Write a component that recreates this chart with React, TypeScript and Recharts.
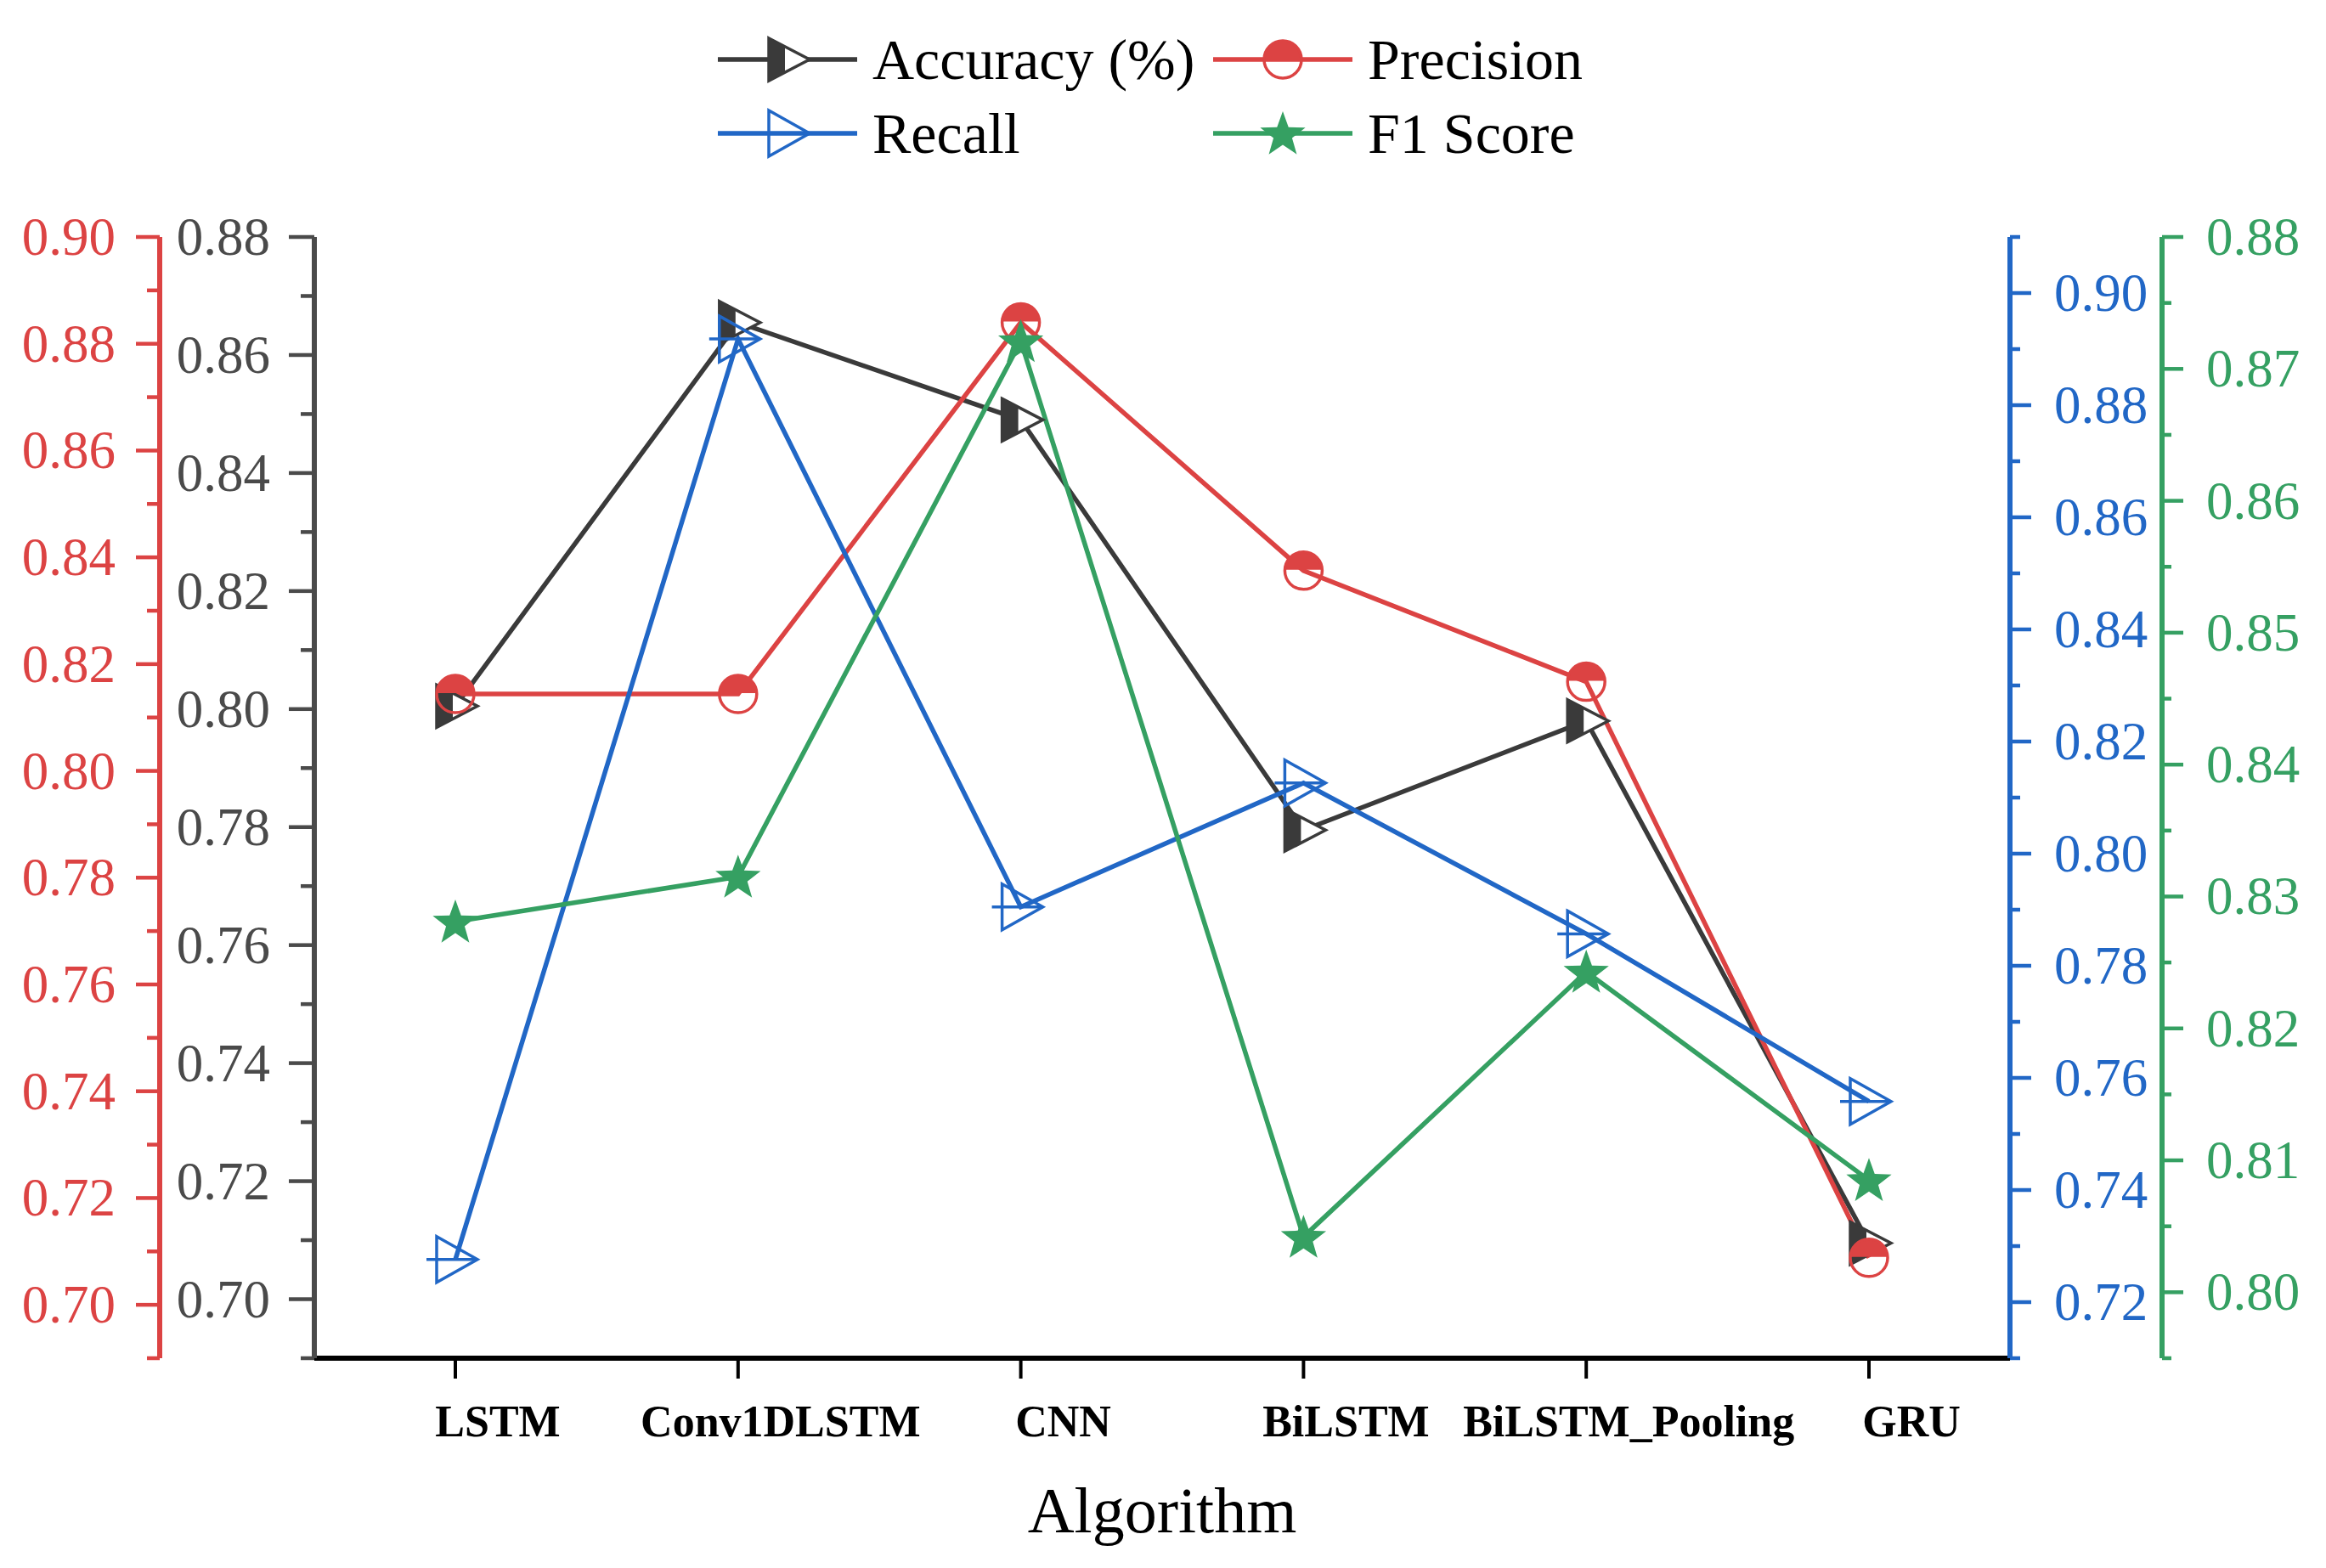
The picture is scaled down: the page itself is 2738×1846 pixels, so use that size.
import React from 'react';
import { LineChart, Line, XAxis, YAxis } from 'recharts';

const algorithms = ['LSTM', 'Conv1DLSTM', 'CNN', 'BiLSTM', 'BiLSTM_Pooling', 'GRU'];
const accuracy = [0.8005, 0.8655, 0.849, 0.7795, 0.798, 0.7095];
const precision = [0.8144, 0.8144, 0.884, 0.8375, 0.8167, 0.7088];
const recall = [0.7276, 0.8918, 0.7905, 0.8126, 0.7857, 0.7558];
const f1Score = [0.8281, 0.8315, 0.8721, 0.8042, 0.8243, 0.8085];

// tick values (major ones get labels)
const redMajor = [0.7, 0.72, 0.74, 0.76, 0.78, 0.8, 0.82, 0.84, 0.86, 0.88, 0.9];
const redMinor = [0.69, 0.71, 0.73, 0.75, 0.77, 0.79, 0.81, 0.83, 0.85, 0.87, 0.89];
const blackMajor = [0.7, 0.72, 0.74, 0.76, 0.78, 0.8, 0.82, 0.84, 0.86, 0.88];
const blackMinor = [0.69, 0.71, 0.73, 0.75, 0.77, 0.79, 0.81, 0.83, 0.85, 0.87];
const blueMajor = [0.72, 0.74, 0.76, 0.78, 0.8, 0.82, 0.84, 0.86, 0.88, 0.9];
const blueMinor = [0.71, 0.73, 0.75, 0.77, 0.79, 0.81, 0.83, 0.85, 0.87, 0.89, 0.91];
const greenMajor = [0.8, 0.81, 0.82, 0.83, 0.84, 0.85, 0.86, 0.87, 0.88];
const greenMinor = [0.795, 0.805, 0.815, 0.825, 0.835, 0.845, 0.855, 0.865, 0.875];

const data = algorithms.map((name, i) => ({
  name,
  accuracy: accuracy[i],
  precision: precision[i],
  recall: recall[i],
  f1: f1Score[i],
}));

const SERIF = '"Liberation Serif", "Times New Roman", serif';
const C_BLACK = '#3a3a3a';
const C_RED = '#dc4343';
const C_BLUE = '#2167c6';
const C_GREEN = '#35a062';

function AccuracyMark({ x, y }: { x: number; y: number }) {
  const xl = x - 22;
  const xt = x + 26;
  const xm = x - 3;
  const dy = ((xm - xl) / (xt - xl)) * 25;
  return (
    <g>
      <path d={`M${xl},${y - 25}L${xt},${y}L${xl},${y + 25}Z`} fill="#fff" stroke={C_BLACK} strokeWidth={3.5} />
      <path d={`M${xl},${y - 25}L${xm},${y - 25 + dy}L${xm},${y + 25 - dy}L${xl},${y + 25}Z`} fill={C_BLACK} />
    </g>
  );
}

function PrecisionMark({ x, y }: { x: number; y: number }) {
  const r = 22;
  return (
    <g>
      <path d={`M${x - r},${y - 1}A${r},${r} 0 0 1 ${x + r},${y - 1}Z`} fill={C_RED} />
      <circle cx={x} cy={y} r={r} fill="none" stroke={C_RED} strokeWidth={3.5} />
    </g>
  );
}

function RecallMark({ x, y }: { x: number; y: number }) {
  const xl = x - 22;
  const xt = x + 26;
  return (
    <g>
      <path d={`M${xl},${y - 27}L${xt},${y}L${xl},${y + 27}Z`} fill="none" stroke={C_BLUE} strokeWidth={3.5} />
      <line x1={x - 34} x2={xt} y1={y} y2={y} stroke={C_BLUE} strokeWidth={3.5} />
    </g>
  );
}

function StarMark({ x, y }: { x: number; y: number }) {
  const outer = 28;
  const inner = 11.5;
  let d = '';
  for (let k = 0; k < 10; k++) {
    const r = k % 2 === 0 ? outer : inner;
    const a = -Math.PI / 2 + (k * Math.PI) / 5;
    d += `${k === 0 ? 'M' : 'L'}${x + r * Math.cos(a)},${y + 2 + r * Math.sin(a)}`;
  }
  return <path d={d + 'Z'} fill={C_GREEN} />;
}

function makeYTick(side: 'left' | 'right', color: string, majors: number[], digits: number, majorLen: number, minorLen: number) {
  return (props: any) => {
    const { x, y, payload } = props;
    const v = payload.value as number;
    const isMajor = majors.some((m) => Math.abs(m - v) < 1e-6);
    const dir = side === 'left' ? -1 : 1;
    const len = isMajor ? majorLen : minorLen;
    return (
      <g>
        <line x1={x} x2={x + dir * len} y1={y} y2={y} stroke={color} strokeWidth={4.5} />
        {isMajor && (
          <text
            x={x + dir * 52}
            y={y}
            textAnchor={side === 'left' ? 'end' : 'start'}
            dominantBaseline="central"
            fill={color}
            fontSize={63}
            fontFamily={SERIF}
          >
            {v.toFixed(digits)}
          </text>
        )}
      </g>
    );
  };
}

const XTick = (props: any) => {
  const { x, y, payload } = props;
  return (
    <g>
      <line x1={x} x2={x} y1={y} y2={y + 24} stroke="#000" strokeWidth={4} />
      <text x={x + 50} y={y + 92} textAnchor="middle" fontWeight="bold" fontSize={52} fontFamily={SERIF} fill="#000">
        {payload.value}
      </text>
    </g>
  );
};

const legendItems = [
  { label: 'Accuracy (%)', color: C_BLACK, Mark: AccuracyMark, x: 845, y: 70 },
  { label: 'Precision', color: C_RED, Mark: PrecisionMark, x: 1428, y: 70 },
  { label: 'Recall', color: C_BLUE, Mark: RecallMark, x: 845, y: 157 },
  { label: 'F1 Score', color: C_GREEN, Mark: StarMark, x: 1428, y: 157 },
];

// axis ids sort innermost-first on each side
export default function App() {
  return (
    <div style={{ position: 'absolute', left: 0, top: 0, width: 2738, height: 1846, background: '#fff' }}>
      <LineChart width={2738} height={1846} data={data} margin={{ top: 279, right: 0, bottom: 0, left: 0 }}>
        <XAxis
          dataKey="name"
          height={247}
          padding={{ left: 166, right: 166 }}
          axisLine={{ stroke: '#000', strokeWidth: 6 }}
          tickLine={false}
          tickSize={0}
          tickMargin={0}
          interval={0}
          tick={<XTick />}
          label={{
            content: (p: any) => (
              <text
                x={p.viewBox.x + p.viewBox.width / 2}
                y={p.viewBox.y + 205}
                textAnchor="middle"
                fontSize={76}
                fontFamily={SERIF}
                fill="#000"
              >
                Algorithm
              </text>
            ),
          }}
        />
        <YAxis
          yAxisId="y1acc"
          orientation="left"
          width={182}
          domain={[0.69, 0.88]}
          ticks={[...blackMajor, ...blackMinor]}
          interval={0}
          axisLine={{ stroke: '#4a4a4a', strokeWidth: 6 }}
          tickLine={false}
          tickSize={0}
          tickMargin={0}
          tick={makeYTick('left', '#4a4a4a', blackMajor, 2, 30, 16)}
        />
        <YAxis
          yAxisId="y2prec"
          orientation="left"
          width={188}
          domain={[0.69, 0.9]}
          ticks={[...redMajor, ...redMinor]}
          interval={0}
          axisLine={{ stroke: C_RED, strokeWidth: 6 }}
          tickLine={false}
          tickSize={0}
          tickMargin={0}
          tick={makeYTick('left', C_RED, redMajor, 2, 28, 15)}
        />
        <YAxis
          yAxisId="y3rec"
          orientation="right"
          width={179}
          domain={[0.71, 0.91]}
          ticks={[...blueMajor, ...blueMinor]}
          interval={0}
          axisLine={{ stroke: C_BLUE, strokeWidth: 6 }}
          tickLine={false}
          tickSize={0}
          tickMargin={0}
          tick={makeYTick('right', C_BLUE, blueMajor, 2, 25, 12)}
        />
        <YAxis
          yAxisId="y4f1"
          orientation="right"
          width={193}
          domain={[0.795, 0.88]}
          ticks={[...greenMajor, ...greenMinor]}
          interval={0}
          axisLine={{ stroke: C_GREEN, strokeWidth: 6 }}
          tickLine={false}
          tickSize={0}
          tickMargin={0}
          tick={makeYTick('right', C_GREEN, greenMajor, 2, 25, 11)}
        />
        <Line
          yAxisId="y1acc"
          dataKey="accuracy"
          stroke={C_BLACK}
          strokeWidth={5.5}
          isAnimationActive={false}
          activeDot={false}
          dot={(p: any) => <AccuracyMark key={`a${p.index}`} x={p.cx} y={p.cy} />}
        />
        <Line
          yAxisId="y2prec"
          dataKey="precision"
          stroke={C_RED}
          strokeWidth={5.5}
          isAnimationActive={false}
          activeDot={false}
          dot={(p: any) => <PrecisionMark key={`p${p.index}`} x={p.cx} y={p.cy} />}
        />
        <Line
          yAxisId="y3rec"
          dataKey="recall"
          stroke={C_BLUE}
          strokeWidth={5.5}
          isAnimationActive={false}
          activeDot={false}
          dot={(p: any) => <RecallMark key={`r${p.index}`} x={p.cx} y={p.cy} />}
        />
        <Line
          yAxisId="y4f1"
          dataKey="f1"
          stroke={C_GREEN}
          strokeWidth={5.5}
          isAnimationActive={false}
          activeDot={false}
          dot={(p: any) => <StarMark key={`f${p.index}`} x={p.cx} y={p.cy} />}
        />
      </LineChart>

      {/* legend */}
      <svg
        width={2738}
        height={230}
        style={{ position: 'absolute', left: 0, top: 0, pointerEvents: 'none' }}
      >
        {legendItems.map((it) => (
          <g key={it.label}>
            <line x1={it.x} x2={it.x + 164} y1={it.y} y2={it.y} stroke={it.color} strokeWidth={5.5} />
            <it.Mark x={it.x + 82} y={it.y} />
            <text
              x={it.x + 182}
              y={it.y}
              dominantBaseline="central"
              fontSize={68}
              fontFamily={SERIF}
              fill="#000"
            >
              {it.label}
            </text>
          </g>
        ))}
      </svg>
    </div>
  );
}
